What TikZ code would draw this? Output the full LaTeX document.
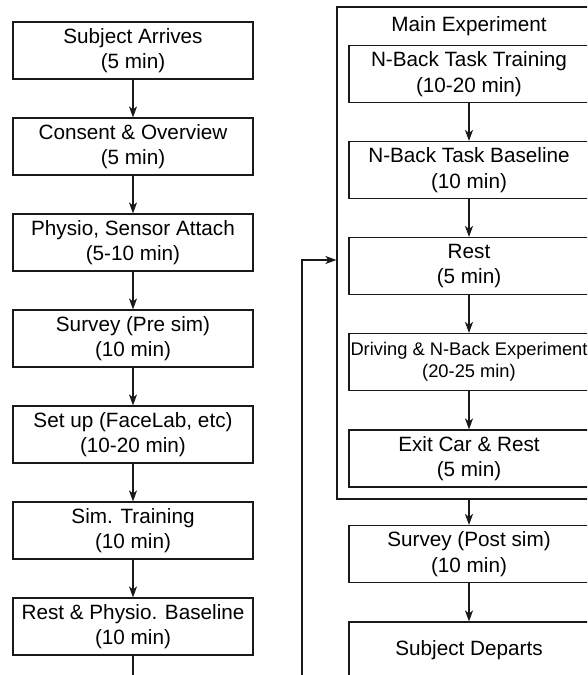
\documentclass[tikz,border=0pt]{standalone}
\usepackage{fontspec}
\setmainfont{Liberation Sans}
\usetikzlibrary{arrows.meta}

\tikzset{
  stage/.style={draw=black!90, line width=1.2pt, rectangle, inner sep=0pt,
    minimum width=240pt, minimum height=57pt, align=center,
    font=\fontsize{20.7}{25.5}\selectfont},
  smallstage/.style={stage, font=\fontsize{18.3}{22.5}\selectfont},
  group/.style={draw=black!90, line width=1.2pt, rectangle, inner sep=0pt,
    minimum width=264pt, minimum height=492pt},
  caption/.style={inner sep=0pt, font=\fontsize{20.7}{25.5}\selectfont},
  flow/.style={draw=black!90, line width=1.2pt,
    -{Stealth[length=11pt, width=8pt, inset=3pt]}},
  plain/.style={draw=black!90, line width=1.2pt}
}

\begin{document}
\begin{tikzpicture}[x=1pt, y=-1pt]
  \useasboundingbox (0,0) rectangle (587,675);
  \clip (0,0) rectangle (587,675);

  % preparation column
  \node[stage] (arrive)  at (133,50.5)  {Subject Arrives\\(5 min)};
  \node[stage] (consent) at (133,146.5) {Consent \& Overview\\(5 min)};
  \node[stage] (physio)  at (133,242.5) {Physio, Sensor Attach\\(5-10 min)};
  \node[stage] (survpre) at (133,338.5) {Survey (Pre sim)\\(10 min)};
  \node[stage] (setup)   at (133,434.5) {Set up (FaceLab, etc)\\(10-20 min)};
  \node[stage] (simtr)   at (133,530.5) {Sim. Training\\(10 min)};
  \node[stage] (baseln)  at (133,626.5) {Rest \& Physio. Baseline\\(10 min)};

  % main experiment group
  \node[group] (main) at (469,253) {};
  \node[caption] (maintitle) at (469,26) {Main Experiment};
  \node[stage] (nbtrain) at (469,74)  {N-Back Task Training\\(10-20 min)};
  \node[stage] (nbbase)  at (469,170) {N-Back Task Baseline\\(10 min)};
  \node[stage] (rest)    at (469,266) {Rest\\(5 min)};
  \node[smallstage] (drive) at (469,362) {Driving \& N-Back Experiment\\(20-25 min)};
  \node[stage] (exitcar) at (469,458.5) {Exit Car \& Rest\\(5 min)};

  % wrap-up column
  \node[stage] (survpost) at (469,554) {Survey (Post sim)\\(10 min)};
  \node[stage] (depart)   at (469,650.5) {Subject Departs};

  % connectors
  \draw[flow] (arrive) -- (consent);
  \draw[flow] (consent) -- (physio);
  \draw[flow] (physio) -- (survpre);
  \draw[flow] (survpre) -- (setup);
  \draw[flow] (setup) -- (simtr);
  \draw[flow] (simtr) -- (baseln);

  \draw[flow] (nbtrain) -- (nbbase);
  \draw[flow] (nbbase) -- (rest);
  \draw[flow] (rest) -- (drive);
  \draw[flow] (drive) -- (exitcar);

  \draw[flow] (main.south) -- (survpost.north);
  \draw[flow] (survpost) -- (depart);

  % loop from the preparation column into the main experiment
  \coordinate (loopa) at (133,700);
  \coordinate (loopb) at (302,700);
  \coordinate (loopc) at (302,260);
  \draw[flow] (baseln.south) -- (loopa) -- (loopb) -- (loopc) -- (loopc -| main.west);
\end{tikzpicture}
\end{document}
